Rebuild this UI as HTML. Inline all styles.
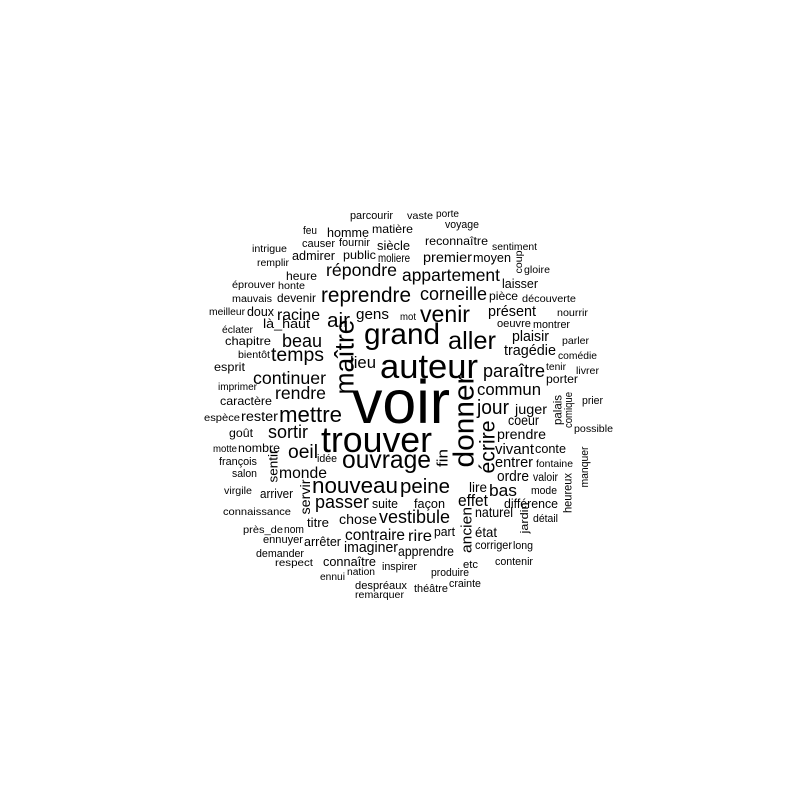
<!DOCTYPE html>
<html><head><meta charset="utf-8"><style>
html,body{margin:0;padding:0;background:#fff;}
svg{display:block;}
text{font-family:"Liberation Sans",Arial,sans-serif;fill:#000;}
</style></head><body>
<svg id="cloud" width="800" height="800" viewBox="0 0 800 800" xmlns="http://www.w3.org/2000/svg">
<rect width="800" height="800" fill="#fff"/>
</svg>
<script>
// horizontal words: text, left x, right x, baseline y, font size
const hWords = ["voir","auteur","trouver","grand","venir","aller","mettre","ouvrage","nouveau","peine","passer","vestibule","reprendre","répondre","appartement","corneille","jour","commun","paraître","temps","continuer","rendre","sortir","oeil","monde","beau","racine","air","gens","lieu","mot","idée",
"parcourir","feu","homme","matière","causer","fournir","siècle","intrigue","public","admirer","moliere","remplir","heure","éprouver","honte","mauvais","devenir","meilleur","doux","éclater","là_haut","chapitre","bientôt","esprit","imprimer","caractère",
"espèce","rester","goût","motte","nombre","françois","salon","virgile","arriver","connaissance","près_de","nom","titre","ennuyer","arrêter","demander","respect","connaître","ennui","nation","despréaux","remarquer","inspirer","chose","suite","contraire","imaginer",
"juger","prier","coeur","possible","prendre","vivant","conte","entrer","fontaine","ordre","valoir","lire","bas","mode","effet","différence","façon","naturel","détail","rire","part","état","corriger","long","apprendre","etc","contenir","produire","théâtre","crainte",
"vaste","porte","voyage","reconnaître","sentiment","premier","moyen","gloire","laisser","pièce","découverte","présent","nourrir","oeuvre","montrer","plaisir","parler","tragédie","comédie","tenir","livrer","porter"];
const hX0 = [352,380,321,364,420,448,279,342,312,400,315,379,321,326,402,420,477,477,483,271,253,275,268,288,279,282,277,327,356,350,400,317,
350,303,327,372,302,339,377,252,343,292,378,257,286,232,278,232,277,209,247,222,263,225,238,214,218,220,
204,241,229,213,238,219,232,224,260,223,243,284,307,263,304,256,275,323,320,347,355,355,382,339,372,345,344,
515,582,508,574,497,495,535,495,536,497,533,469,489,531,458,504,414,475,533,408,434,475,475,513,398,463,495,431,414,449,
407,436,445,425,492,423,473,524,502,489,522,488,557,497,533,512,562,504,558,546,576,546];
const hX1 = [450,478,432,440,470,496,342,431,398,450,369,450,411,397,500,487,509,541,545,324,326,326,308,318,327,322,320,350,389,376,416,337,
393,317,369,413,335,370,410,287,376,335,410,289,317,275,305,272,316,245,274,253,310,271,270,245,257,272,
240,278,253,237,280,257,257,252,293,291,283,304,329,303,341,304,313,376,345,375,407,404,417,377,398,405,398,
547,603,539,613,546,534,566,533,573,529,558,487,517,557,488,558,445,513,558,432,455,497,512,533,454,478,533,469,448,481,
433,459,479,488,537,472,511,550,538,518,576,536,588,531,570,549,589,556,597,566,599,578];
const hY = [423,378,452,344,322,349,422,468,493,493,508,523,302,276,281,300,414,395,377,361,384,399,438,458,478,347,320,327,319,368,320,462,
219,234,237,233,247,246,250,252,259,260,262,266,280,288,289,302,302,315,316,333,328,345,358,371,390,405,
421,421,437,452,452,465,477,494,498,515,533,533,527,543,546,557,566,566,580,575,589,598,570,524,508,540,552,
414,404,425,432,439,454,453,467,467,481,481,492,496,494,506,508,508,517,522,541,536,537,549,549,556,568,565,576,592,587,
219,217,228,245,250,262,262,273,288,300,302,316,316,327,328,341,344,355,359,370,374,383];
const hSize = [61,34.5,35.7,29.7,23,25.4,22,24.6,22.4,20.4,18,18,20.8,17.7,17.5,18,20,16.7,18,19.5,17.7,17.6,18,19,15.7,18,15.8,20.7,15.2,16.7,10,11,
11,11,13,12,11,11,12.5,10.5,12,12.5,12,10,12,10.5,10.5,10,12,10,13,10.5,13,12,10,12,10,12,
10,13.5,12,10,12,11,11,10,12.5,10.5,10.5,11,13,11,13,11,10.5,13,10,10,11,10.5,11,14,13,15.5,15,
14,11,14,10.5,14,15,12.5,15,10.5,15,11.5,14,17,11,17,13,13,14,11,16,13,14,11.5,11,14,11,11,11,11,11,
10.5,10.5,11,12,10.5,14,13,10.5,13,12,10.5,15,10.5,11,11,15,10.5,15,10.5,10.5,10.5,12];

// vertical words (rotated -90°): text, center x, center y, font size, length
const vWords = ["donner","maître","écrire","fin","sentir","servir","palais","comique","manquer","heureux","jardin","ancien","coup"];
const vCX = [463,344,487,442,273,305,557,568,584,567,524,466,518];
const vCY = [421,357,447,458,466,497,410,410,467,493,518,530,262];
const vSize = [29,26.5,21,15,13,14,12,11,11,12,11,15,10.5];
const vLen = [93,75,53,18,33,35,30,36,41,40,31,46,23];

const svg = document.getElementById('cloud');
const NS = 'http://www.w3.org/2000/svg';
function slug(w){return 'word-' + w.normalize('NFD').replace(/[\u0300-\u036f]/g,'').replace(/[^a-zA-Z0-9]+/g,'-').toLowerCase();}
for (let i = 0; i < vWords.length; i++) {
  const t = document.createElementNS(NS, 'text');
  t.setAttribute('x', 0);
  t.setAttribute('y', 0);
  t.setAttribute('font-size', vSize[i]);
  t.setAttribute('text-anchor', 'middle');
  t.setAttribute('dy', (vSize[i] * 0.36).toFixed(1));
  t.setAttribute('textLength', vLen[i]);
  t.setAttribute('lengthAdjust', 'spacingAndGlyphs');
  t.setAttribute('transform', 'translate(' + vCX[i] + ',' + vCY[i] + ') rotate(-90)');
  t.textContent = vWords[i];
  
  
  svg.appendChild(t);
}
for (let i = 0; i < hWords.length; i++) {
  const t = document.createElementNS(NS, 'text');
  t.setAttribute('x', hX0[i]);
  t.setAttribute('y', hY[i]);
  t.setAttribute('font-size', hSize[i]);
  t.setAttribute('textLength', hX1[i] - hX0[i]);
  t.setAttribute('lengthAdjust', 'spacingAndGlyphs');
  t.textContent = hWords[i];
  
  
  svg.appendChild(t);
}
</script>
</body></html>
